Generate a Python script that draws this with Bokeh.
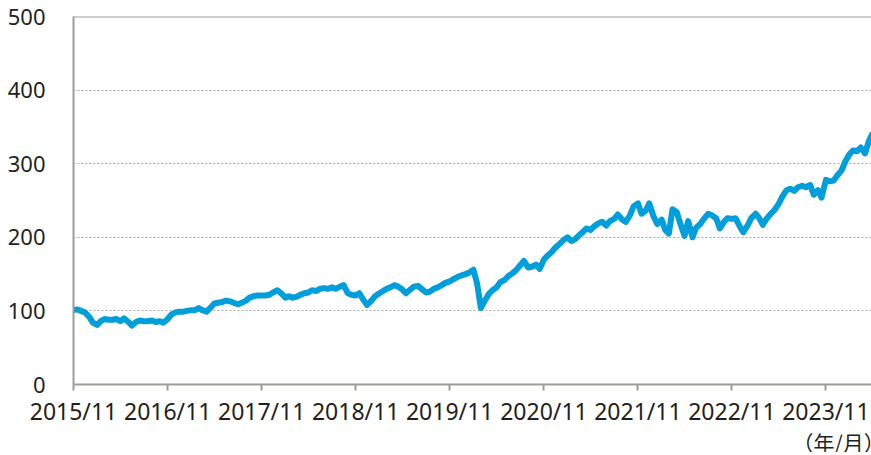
from datetime import datetime
import pandas as pd
from bokeh.plotting import figure
from bokeh.models import (Range1d, FixedTicker, DatetimeTickFormatter, Span,
                          ColumnDataSource, Title)
from bokeh.embed import file_html
from bokeh.resources import INLINE

# ---- data (semi-monthly index level, start 2015/11 = 100) ----
start_date = "2015-11-01"
index_values = [
    101, 102, 100, 98, 92, 84, 81, 86, 89, 88, 88, 89, 86, 90, 85, 80, 85, 87, 86, 86,
    87, 85, 86, 84, 89, 95, 98, 99, 99, 100, 101, 101, 104, 101, 99, 104, 110, 111, 112, 114,
    113, 111, 109, 111, 114, 118, 120, 121, 121, 121, 122, 125, 128, 124, 118, 120, 118, 119, 122, 124,
    125, 128, 127, 130, 131, 130, 132, 130, 133, 135, 124, 122, 121, 124, 115, 108, 114, 120, 124, 127,
    130, 132, 135, 133, 129, 124, 129, 133, 134, 130, 125, 126, 130, 132, 135, 138, 140, 143, 146, 148,
    150, 152, 156, 138, 104, 113, 123, 128, 132, 139, 142, 147, 151, 155, 162, 168, 159, 160, 163, 157,
    170, 175, 180, 186, 191, 196, 200, 195, 197, 202, 207, 212, 210, 215, 219, 221, 216, 222, 225, 231,
    224, 221, 230, 242, 246, 232, 236, 246, 228, 218, 224, 210, 205, 238, 234, 218, 202, 222, 200, 213,
    218, 225, 232, 230, 226, 212, 221, 226, 225, 226, 215, 207, 216, 226, 232, 226, 217, 225, 232, 237,
    245, 255, 264, 266, 263, 268, 270, 268, 271, 258, 264, 254, 278, 276, 277, 284, 291, 303, 313, 318,
    317, 322, 314, 330, 342,
]
tick_labels = ["2015/11", "2016/11", "2017/11", "2018/11", "2019/11",
               "2020/11", "2021/11", "2022/11", "2023/11"]
y_ticks = [0, 100, 200, 300, 400, 500]
unit_label = "（年/月）"

dates = pd.date_range(start=start_date, periods=len(index_values), freq="SMS")
src = ColumnDataSource(dict(date=dates, value=index_values))
tick_dates = [pd.to_datetime(t + "/01", format="%Y/%m/%d") for t in tick_labels]
tick_ms = [d.timestamp() * 1000 for d in tick_dates]

FONT = "Noto Sans"
TXT = "#231f20"
AX = "#a09c98"

p = figure(frame_width=798, frame_height=368, x_axis_type="datetime",
           output_backend="svg", toolbar_location=None,
           x_range=Range1d(datetime(2015, 11, 1), datetime(2024, 4, 26)),
           y_range=Range1d(0, 500),
           min_border_left=73, min_border_right=0, min_border_top=16, min_border_bottom=68)
p.outline_line_color = None
p.background_fill_color = "white"
p.border_fill_color = "white"

p.line("date", "value", source=src, line_color="#009edb", line_width=6, line_join="round")

# x axis
xa = p.xaxis[0]
xa.ticker = FixedTicker(ticks=tick_ms)
fmt = "%Y/%m"
xa.formatter = DatetimeTickFormatter(years=fmt, months=fmt, days=fmt, hours=fmt,
                                     hourmin=fmt, minutes=fmt, minsec=fmt, seconds=fmt,
                                     milliseconds=fmt, microseconds=fmt)
xa.minor_tick_line_color = None
xa.major_tick_in = 0
xa.major_tick_out = 6
xa.major_tick_line_color = AX
xa.major_tick_line_width = 2
xa.axis_line_color = AX
xa.axis_line_width = 2
xa.major_label_text_font = FONT
xa.major_label_text_font_size = "23px"
xa.major_label_text_color = TXT
xa.major_label_standoff = 4

# unit label under the axis, at the right
p.add_layout(Title(text=unit_label, align="left", offset=719, standoff=-10,
                   text_font="Noto Sans CJK JP", text_font_size="21px",
                   text_font_style="normal", text_color=TXT), "below")

# y axis
ya = p.yaxis[0]
ya.ticker = FixedTicker(ticks=y_ticks)
ya.minor_tick_line_color = None
ya.major_tick_line_color = None
ya.major_tick_in = 0
ya.major_tick_out = 0
ya.axis_line_color = AX
ya.axis_line_width = 2
ya.major_label_text_font = FONT
ya.major_label_text_font_size = "22px"
ya.major_label_text_color = TXT
ya.major_label_standoff = 28

p.xgrid.grid_line_color = None
p.ygrid.ticker = FixedTicker(ticks=y_ticks[1:-1])
p.ygrid.grid_line_color = "#aaaaaa"
p.ygrid.grid_line_dash = "2 2"
p.ygrid.grid_line_width = 1

p.add_layout(Span(location=500, dimension="width", line_color=AX, line_width=2))

open("out.html", "w").write(file_html(p, INLINE))
